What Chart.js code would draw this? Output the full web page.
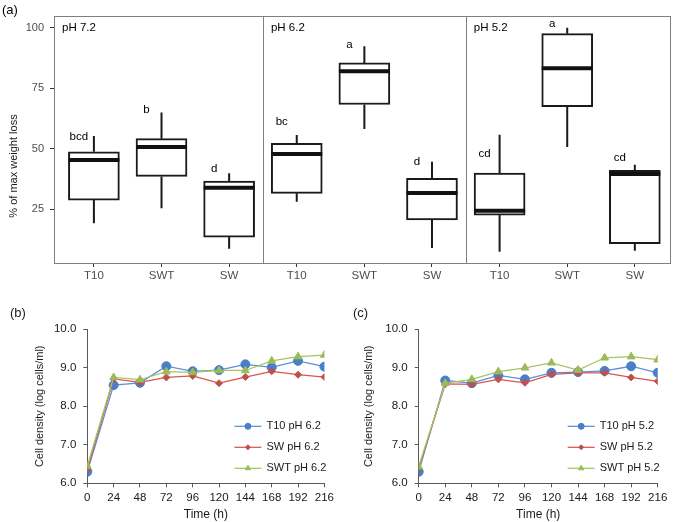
<!DOCTYPE html>
<html>
<head>
<meta charset="utf-8">
<script src="https://cdn.jsdelivr.net/npm/chart.js@4.4.1/dist/chart.umd.min.js"></script>
<style>
  body { margin: 0; background: #fff; width: 676px; height: 522px; position: relative; overflow: hidden; }
  canvas { position: absolute; }
</style>
</head>
<body>
<canvas id="boxChart" width="676" height="290" style="left:0;top:0"></canvas>
<canvas id="chartB" width="338" height="232" style="left:0;top:290px"></canvas>
<canvas id="chartC" width="338" height="232" style="left:338px;top:290px"></canvas>
<script>
// ---- panel (a): weight loss boxplots ----
const phGroups = ['pH 7.2', 'pH 6.2', 'pH 5.2'];
const treatments = ['T10', 'SWT', 'SW'];
const boxLabels = ['T10', 'SWT', 'SW', 'T10', 'SWT', 'SW', 'T10', 'SWT', 'SW'];
const boxMin    = [19.1, 25.3,  8.6, 28.0, 58.1,  8.9,  7.4, 50.7,  7.8];
const boxQ1     = [28.7, 38.5, 13.4, 31.5, 68.2, 20.5, 22.5, 67.3, 10.7];
const boxMedian = [45.3, 50.7, 33.8, 47.8, 82.0, 31.6, 24.3, 83.2, 39.5];
const boxQ3     = [48.7, 54.1, 36.6, 52.2, 85.4, 37.7, 39.9, 97.5, 41.0];
const boxMax    = [55.2, 64.9, 39.8, 55.6, 92.3, 44.6, 55.7, 99.9, 43.3];
const sigLetters = ['bcd', 'b', 'd', 'bc', 'a', 'd', 'cd', 'a', 'cd'];
const sigLetterY = [54.8, 66.0, 41.5, 61.1, 92.8, 44.5, 47.8, 101.5, 46.1];
const weightTicks = [25, 50, 75, 100];

// ---- panels (b) and (c): cell density ----
const hours = [0, 24, 48, 72, 96, 120, 144, 168, 192, 216];
const namesB = ['T10 pH 6.2', 'SW pH 6.2', 'SWT pH 6.2'];
const t10B  = [6.30, 8.55, 8.61, 9.04, 8.91, 8.94, 9.09, 9.01, 9.18, 9.03];
const swB   = [6.36, 8.71, 8.62, 8.75, 8.79, 8.60, 8.76, 8.91, 8.82, 8.76];
const swtB  = [6.45, 8.75, 8.69, 8.90, 8.88, 8.93, 8.93, 9.18, 9.29, 9.33];
const t10ErrB = [0.05, 0.10, 0.05, 0.10, 0.04, 0.10, 0.08, 0.10, 0.10, 0.04];
const swErrB  = [0.04, 0.05, 0.04, 0.05, 0.04, 0.04, 0.05, 0.15, 0.06, 0.07];
const swtErrB = [0.04, 0.14, 0.08, 0.05, 0.04, 0.05, 0.05, 0.08, 0.08, 0.06];

const namesC = ['T10 pH 5.2', 'SW pH 5.2', 'SWT pH 5.2'];
const t10C  = [6.30, 8.67, 8.60, 8.80, 8.70, 8.87, 8.89, 8.92, 9.04, 8.87];
const swC   = [6.39, 8.58, 8.57, 8.70, 8.61, 8.83, 8.87, 8.87, 8.75, 8.65];
const swtC  = [6.43, 8.60, 8.70, 8.90, 9.00, 9.13, 8.94, 9.26, 9.29, 9.21];
const t10ErrC = [0.05, 0.12, 0.05, 0.05, 0.05, 0.06, 0.07, 0.08, 0.10, 0.05];
const swErrC  = [0.04, 0.15, 0.04, 0.05, 0.04, 0.05, 0.05, 0.15, 0.05, 0.06];
const swtErrC = [0.04, 0.08, 0.10, 0.05, 0.04, 0.12, 0.05, 0.07, 0.09, 0.06];

const FONT = "'Liberation Sans', Arial, sans-serif";
const BOX_W = 51;

const boxExtras = {
    id: 'boxExtras',
    beforeDatasetsDraw(chart) {
        const { ctx, scales: { x, y } } = chart;
        ctx.save();
        ctx.strokeStyle = '#1a1a1a';
        ctx.lineWidth = 2;
        boxMin.forEach((lo, i) => {
            const px = x.getPixelForValue(i);
            ctx.beginPath();
            ctx.moveTo(px, y.getPixelForValue(boxQ3[i]));
            ctx.lineTo(px, y.getPixelForValue(boxMax[i]));
            ctx.moveTo(px, y.getPixelForValue(boxQ1[i]));
            ctx.lineTo(px, y.getPixelForValue(lo));
            ctx.stroke();
        });
        ctx.restore();
    },
    afterDatasetsDraw(chart) {
        const { ctx, chartArea: area, scales: { x, y } } = chart;
        ctx.save();
        // medians
        ctx.strokeStyle = '#111';
        ctx.lineWidth = 4;
        boxMedian.forEach((m, i) => {
            const px = x.getPixelForValue(i);
            const py = y.getPixelForValue(m);
            ctx.beginPath();
            ctx.moveTo(px - BOX_W / 2, py);
            ctx.lineTo(px + BOX_W / 2, py);
            ctx.stroke();
        });
        // frame + facet dividers
        ctx.strokeStyle = '#7f7f7f';
        ctx.lineWidth = 1;
        ctx.strokeRect(Math.round(area.left) + 0.5, Math.round(area.top) + 0.5,
            Math.round(area.right - area.left), Math.round(area.bottom - area.top));
        [2.5, 5.5].forEach(v => {
            const px = Math.round(x.getPixelForValue(v)) + 0.5;
            ctx.beginPath();
            ctx.moveTo(px, area.top);
            ctx.lineTo(px, area.bottom);
            ctx.stroke();
        });
        // facet titles
        ctx.fillStyle = '#000';
        ctx.font = '11.5px ' + FONT;
        ctx.textBaseline = 'middle';
        ctx.textAlign = 'left';
        const starts = [area.left, x.getPixelForValue(2.5), x.getPixelForValue(5.5)];
        phGroups.forEach((g, k) => ctx.fillText(g, starts[k] + 8, area.top + 12));
        // significance letters
        ctx.textAlign = 'center';
        sigLetters.forEach((t, i) => {
            ctx.fillText(t, x.getPixelForValue(i) - 15, y.getPixelForValue(sigLetterY[i]));
        });
        // y title and panel tag
        ctx.save();
        ctx.translate(14, 166);
        ctx.rotate(-Math.PI / 2);
        ctx.font = '11px ' + FONT;
        ctx.fillStyle = '#1a1a1a';
        ctx.fillText('% of max weight loss', 0, 0);
        ctx.restore();
        ctx.font = '13px ' + FONT;
        ctx.textAlign = 'left';
        ctx.fillText('(a)', 2, 10);
        ctx.restore();
    }
};

new Chart(document.getElementById('boxChart'), {
    type: 'bar',
    data: {
        datasets: [{
            data: boxQ1.map((q1, i) => ({ x: i, y: [q1, boxQ3[i]] })),
            backgroundColor: '#fff',
            borderColor: '#1a1a1a',
            borderWidth: 2,
            borderSkipped: false,
            barThickness: BOX_W
        }]
    },
    options: {
        responsive: false,
        animation: false,
        layout: { padding: { top: 16, right: 6, left: 0, bottom: 0 } },
        plugins: { legend: { display: false }, tooltip: { enabled: false } },
        scales: {
            x: {
                type: 'linear',
                min: -0.59,
                max: 8.52,
                offset: false,
                grid: { display: true, drawOnChartArea: false, drawTicks: true, tickLength: 4, color: '#333', offset: false },
                border: { display: false },
                afterBuildTicks: s => { s.ticks = boxLabels.map((_, i) => ({ value: i })); },
                afterFit: s => { s.height = 27; },
                ticks: {
                    autoSkip: false, maxRotation: 0, padding: 2,
                    color: '#4d4d4d', font: { family: FONT, size: 11.5 },
                    callback: v => boxLabels[v]
                }
            },
            y: {
                min: 2.7,
                max: 104.8,
                grid: { display: true, drawOnChartArea: false, drawTicks: true, tickLength: 4, color: '#333' },
                border: { display: false },
                afterBuildTicks: s => { s.ticks = weightTicks.map(v => ({ value: v })); },
                afterFit: s => { s.width = 54; },
                ticks: { padding: 6, color: '#4d4d4d', font: { family: FONT, size: 11 } }
            }
        }
    },
    plugins: [boxExtras]
});

// ---- line charts ----
const seriesStyle = [
    { line: '#5b8fd6', fill: '#4a7ec7', style: 'circle', r: 4.5, lr: 3 },
    { line: '#d9544f', fill: '#c0504d', style: 'rectRot', r: 3.5, lr: 2.5 },
    { line: '#a5c463', fill: '#9bbb59', style: 'triangle', r: 4.5, lr: 3 }
];

const errorBars = {
    id: 'errorBars',
    beforeDatasetsDraw(chart) {
        const { ctx, scales: { x, y } } = chart;
        ctx.save();
        ctx.strokeStyle = '#404040';
        ctx.lineWidth = 1;
        chart.data.datasets.forEach(ds => {
            ds.data.forEach((v, i) => {
                const px = x.getPixelForValue(hours[i]);
                const top = y.getPixelForValue(v + ds.errors[i]);
                const bot = y.getPixelForValue(v - ds.errors[i]);
                ctx.beginPath();
                ctx.moveTo(px, top); ctx.lineTo(px, bot);
                ctx.moveTo(px - 3.5, top); ctx.lineTo(px + 3.5, top);
                ctx.moveTo(px - 3.5, bot); ctx.lineTo(px + 3.5, bot);
                ctx.stroke();
            });
        });
        ctx.restore();
    }
};

const sideLegend = {
    id: 'sideLegend',
    afterDraw(chart) {
        const { ctx, chartArea: area } = chart;
        const rows = [97, 118, 139];
        ctx.save();
        chart.data.datasets.forEach((ds, k) => {
            const st = seriesStyle[k];
            const yy = area.top + rows[k];
            const x0 = area.right - 90, x1 = area.right - 63;
            ctx.strokeStyle = st.line;
            ctx.lineWidth = 1.25;
            ctx.beginPath(); ctx.moveTo(x0, yy); ctx.lineTo(x1, yy); ctx.stroke();
            ctx.fillStyle = st.fill;
            ctx.strokeStyle = st.fill;
            ctx.lineWidth = 1;
            Chart.helpers.drawPoint(ctx, { pointStyle: st.style, radius: st.lr, rotation: 0, borderWidth: 1 }, (x0 + x1) / 2, yy);
            ctx.fillStyle = '#1a1a1a';
            ctx.font = '11px ' + FONT;
            ctx.textBaseline = 'middle';
            ctx.textAlign = 'left';
            ctx.fillText(ds.label, area.right - 58, yy);
        });
        ctx.font = '13px ' + FONT;
        ctx.fillStyle = '#1a1a1a';
        ctx.textBaseline = 'middle';
        ctx.fillText(chart.options.panelTag, chart.options.tagX, 23);
        ctx.restore();
    }
};

const makeDensityChart = (id, names, values, errors, geo) => {
    return new Chart(document.getElementById(id), {
        type: 'line',
        data: {
            datasets: values.map((vals, k) => ({
                label: names[k],
                data: vals,
                errors: errors[k],
                order: 3 - k,
                borderColor: seriesStyle[k].line,
                borderWidth: 1.25,
                pointStyle: seriesStyle[k].style,
                pointRadius: seriesStyle[k].r,
                pointBackgroundColor: seriesStyle[k].fill,
                pointBorderColor: seriesStyle[k].fill,
                pointBorderWidth: 1,
                tension: 0,
                fill: false
            }))
        },
        options: {
            responsive: false,
            animation: false,
            panelTag: geo.tag,
            tagX: geo.tagX,
            parsing: false,
            layout: { padding: { top: 39.3, right: geo.right, left: 0, bottom: 0 } },
            plugins: { legend: { display: false }, tooltip: { enabled: false } },
            scales: {
                x: {
                    type: 'linear',
                    min: 0, max: 216,
                    grid: { display: true, drawOnChartArea: false, drawTicks: true, tickLength: 4, color: '#595959' },
                    border: { display: true, color: '#595959' },
                    afterBuildTicks: s => { s.ticks = hours.map(h => ({ value: h })); },
                    afterFit: s => { s.height = 38.7; },
                    ticks: { padding: 4, color: '#1a1a1a', font: { family: FONT, size: 11.5 } },
                    title: { display: true, text: 'Time (h)', color: '#1a1a1a', font: { family: FONT, size: 12 }, padding: { top: 0, bottom: 0 } }
                },
                y: {
                    min: 6, max: 10,
                    grid: { display: true, drawOnChartArea: false, drawTicks: true, tickLength: 4, color: '#595959' },
                    border: { display: true, color: '#595959' },
                    afterFit: s => { s.width = geo.left; },
                    ticks: { stepSize: 1, padding: 7, color: '#1a1a1a', font: { family: FONT, size: 11.5 }, callback: v => v.toFixed(1) },
                    title: { display: true, text: 'Cell density (log cells/ml)', color: '#1a1a1a', font: { family: FONT, size: 11 }, padding: { top: geo.titleX - 6.6, bottom: 0 } }
                }
            }
        },
        plugins: [errorBars, sideLegend]
    });
};

const toPoints = arr => arr.map((v, i) => ({ x: hours[i], y: v }));

const chartB = makeDensityChart('chartB', namesB,
    [t10B, swB, swtB].map(toPoints), [t10ErrB, swErrB, swtErrB],
    { left: 87.3, right: 13, titleX: 40, tag: '(b)', tagX: 10 });
const chartC = makeDensityChart('chartC', namesC,
    [t10C, swC, swtC].map(toPoints), [t10ErrC, swErrC, swtErrC],
    { left: 80.7, right: 18.3, titleX: 31, tag: '(c)', tagX: 15 });
</script>
</body>
</html>
